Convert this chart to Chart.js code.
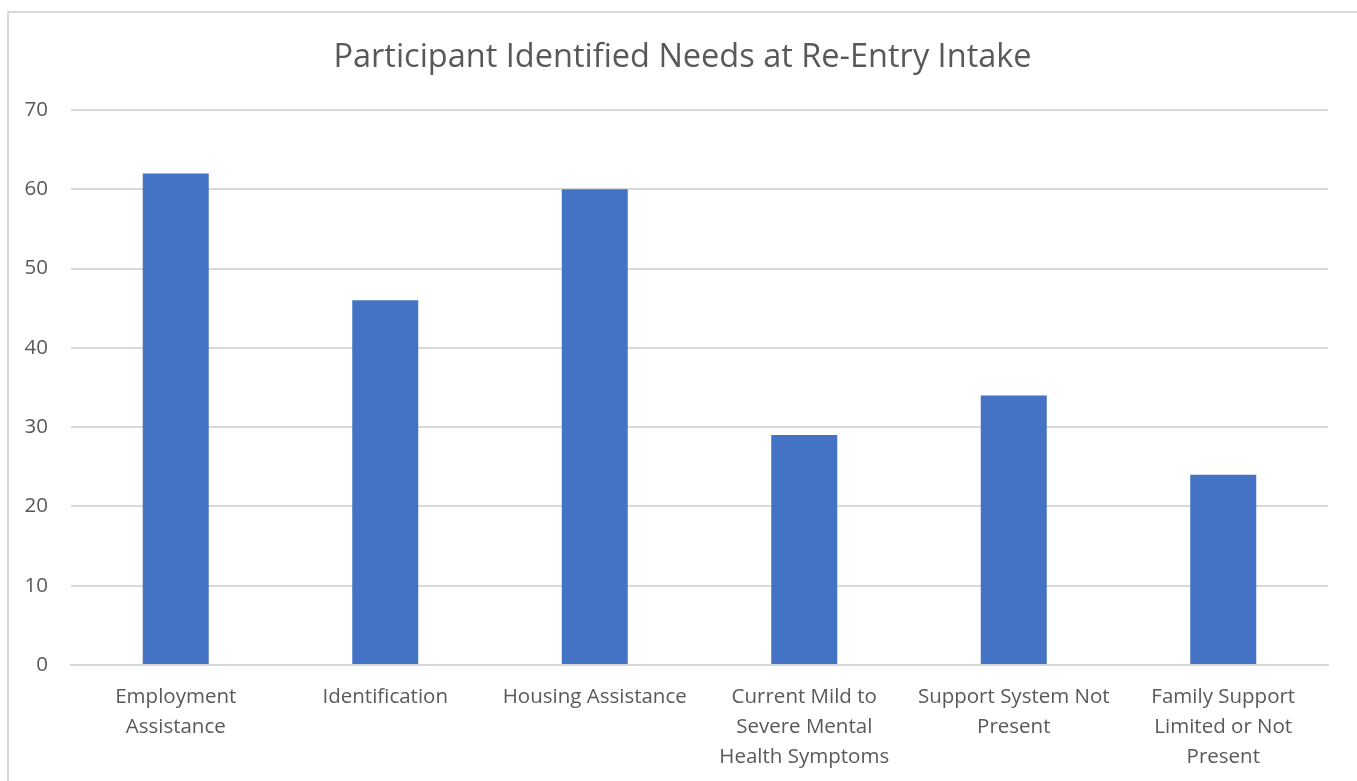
<!DOCTYPE html>
<html>
<head>
<meta charset="utf-8">
<script src="https://cdn.jsdelivr.net/npm/chart.js@4.4.1/dist/chart.umd.min.js"></script>
<style>
  html, body { margin: 0; padding: 0; background: #fff; overflow: hidden; }
  #frame {
    position: absolute; left: 7px; top: 11px; width: 1400px; height: 820px;
    border: 2px solid #d9d9d9; box-sizing: border-box;
  }
  #wrap { position: absolute; left: 0; top: 0; width: 1357px; height: 781px; }
</style>
</head>
<body>
<div id="frame"></div>
<div id="wrap"><canvas id="needsChart"></canvas></div>
<script>
var chartTitle = 'Participant Identified Needs at Re-Entry Intake';
var categories = [
    ['Employment', 'Assistance'],
    ['Identification'],
    ['Housing Assistance'],
    ['Current Mild to', 'Severe Mental', 'Health Symptoms'],
    ['Support System Not', 'Present'],
    ['Family Support', 'Limited or Not', 'Present']
];
var needCounts = [62, 46, 60, 29, 34, 24];
var yTicks = [0, 10, 20, 30, 40, 50, 60, 70];

var textColor = '#595959';
var gridColor = '#d9d9d9';

// centre the title on the frame rather than on the full canvas width
var titleOffset = {
    id: 'titleOffset',
    afterLayout: function (chart) {
        if (chart.titleBlock) {
            chart.titleBlock.left += 37;
        }
    }
};

var needsChartCanvas = document.getElementById('needsChart');
var needsChart = new Chart(needsChartCanvas, {
    type: 'bar',
    data: {
        labels: categories,
        datasets: [
            {
                label: 'Participants',
                backgroundColor: '#4472c4',
                borderWidth: 0,
                barPercentage: 1,
                categoryPercentage: 0.315,
                data: needCounts
            }
        ]
    },
    plugins: [titleOffset],
    options: {
        responsive: true,
        maintainAspectRatio: false,
        animation: false,
        layout: {
            padding: { left: 0, right: 29, top: 0, bottom: 0 }
        },
        plugins: {
            legend: { display: false },
            tooltip: { enabled: false },
            title: {
                display: true,
                text: chartTitle,
                color: textColor,
                font: { family: 'Open Sans', size: 32.5, weight: 'normal', lineHeight: 1.2 },
                padding: { top: 38, bottom: 33 }
            }
        },
        scales: {
            x: {
                grid: { display: false, drawTicks: false },
                border: { color: gridColor, width: 2 },
                ticks: {
                    color: textColor,
                    padding: 17,
                    maxRotation: 0,
                    autoSkip: false,
                    font: { family: 'Open Sans', size: 20.5, lineHeight: '30px' }
                },
                afterFit: function (scale) { scale.height = 116; }
            },
            y: {
                min: 0,
                max: 70,
                afterBuildTicks: function (scale) {
                    scale.ticks = yTicks.map(function (v) { return { value: v }; });
                },
                grid: { color: gridColor, lineWidth: 2, drawTicks: false },
                border: { display: false },
                ticks: {
                    color: textColor,
                    padding: 23,
                    font: { family: 'Open Sans', size: 20.5 }
                },
                afterFit: function (scale) { scale.width = 71; }
            }
        }
    }
});
</script>
</body>
</html>
